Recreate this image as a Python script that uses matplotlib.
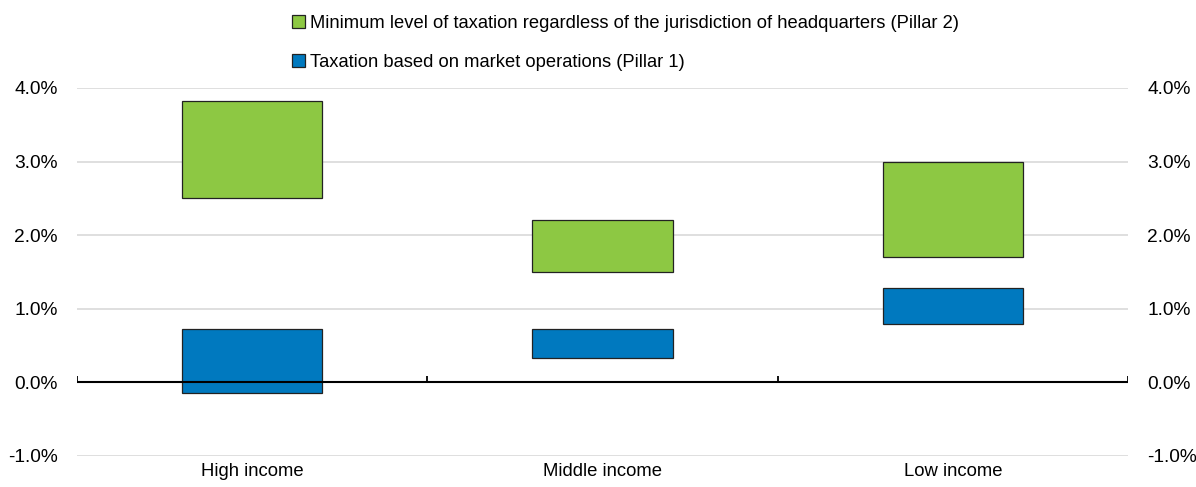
import numpy as np
import matplotlib
matplotlib.use('Agg')
import matplotlib.pyplot as plt
from matplotlib.patches import Patch
from matplotlib.ticker import FuncFormatter

plt.rcParams['font.family'] = ['Liberation Sans Narrow', 'Liberation Sans', 'DejaVu Sans']

categories = ['High income', 'Middle income', 'Low income']
pillar2_low = [2.50, 1.50, 1.70]
pillar2_high = [3.82, 2.20, 3.00]
pillar1_low = [-0.14, 0.33, 0.79]
pillar1_high = [0.73, 0.73, 1.28]

lab2 = 'Minimum level of taxation regardless of the jurisdiction of headquarters (Pillar 2)'
lab1 = 'Taxation based on market operations (Pillar 1)'

green = '#8DC843'
blue = '#0079BF'

fig = plt.figure(figsize=(11.96, 4.87), dpi=100)
ax = fig.add_axes([77/1196, 31/487, (1128-77)/1196, (456-88)/487])

x = np.arange(len(categories))
w = 0.4
p2l = np.array(pillar2_low); p2h = np.array(pillar2_high)
p1l = np.array(pillar1_low); p1h = np.array(pillar1_high)
ax.bar(x, p2h - p2l, bottom=p2l, width=w, color=green, edgecolor='#222222', lw=0.9, zorder=3)
ax.bar(x, p1h - p1l, bottom=p1l, width=w, color=blue, edgecolor='#222222', lw=0.9, zorder=3)

ax.set_xlim(-0.5, 2.5)
ax.set_ylim(-1, 4)
ax.set_yticks(np.arange(-1, 4.1, 1))
ax.grid(axis='y', color='#d9d9d9', lw=1.2, zorder=0)
for s in ax.spines.values():
    s.set_visible(False)

# zero line with category separators
ax.axhline(0, color='black', lw=1.5, zorder=4)
ax.vlines(np.arange(-0.5, 2.6, 1), 0, 0.09, color='black', lw=1.3, zorder=4)

pct = FuncFormatter(lambda v, p: f'{v:.1f}%')
ax.yaxis.set_major_formatter(pct)
ax.set_xticks(x)
ax.set_xticklabels(categories)
ax.tick_params(axis='x', length=0, pad=5, labelsize=13.3)
ax.tick_params(axis='y', length=0, pad=14, labelsize=13.8)

ax2 = ax.twinx()
ax2.set_ylim(ax.get_ylim())
ax2.set_yticks(np.arange(-1, 4.1, 1))
ax2.yaxis.set_major_formatter(pct)
ax2.tick_params(axis='y', length=0, pad=14, labelsize=13.8)
for s in ax2.spines.values():
    s.set_visible(False)

handles = [Patch(facecolor=green, edgecolor='#222222', lw=0.9, label=lab2),
           Patch(facecolor=blue, edgecolor='#222222', lw=0.9, label=lab1)]
fig.legend(handles=handles, loc='upper left', bbox_to_anchor=(279/1196, 0.995),
           frameon=False, fontsize=13.2, handlelength=0.7, handleheight=0.7,
           handletextpad=0.3, labelspacing=1.2, borderaxespad=0.3)

fig.savefig('out.png', dpi=100)
